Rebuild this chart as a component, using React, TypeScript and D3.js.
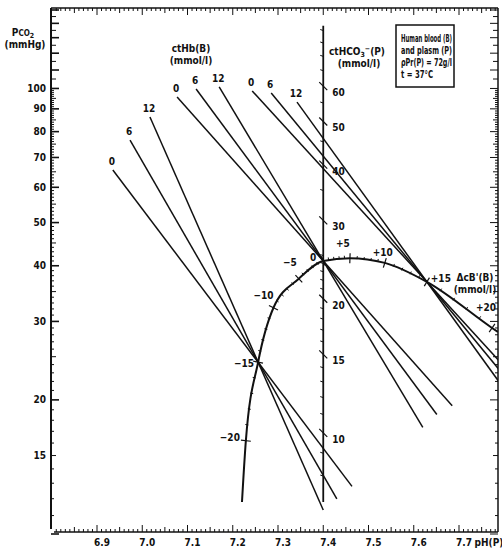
import * as React from "react";
import * as d3 from "d3";

const W = 502;
const H = 548;

// axis ticks
const phTicks = [6.9, 7.0, 7.1, 7.2, 7.3, 7.4, 7.5, 7.6, 7.7];
const pco2Ticks = [15, 20, 30, 40, 50, 60, 70, 80, 90, 100];
const hco3Labels = [10, 15, 20, 30, 40, 50, 60];
const hco3Minor = [8, 9, 11, 12, 13, 14, 16, 17, 18, 19, 21, 22, 23, 24, 25, 35, 45, 55, 65, 70, 75, 80];
const hco3Range = [7, 82];
const hco3Factor = 0.593; // mmol/l per mmHg at pH 7.4

// CO2 equilibration lines, pivot points on the buffer curve
const pivotBE = [-15, 0, 15];
const pivotPh = [7.256, 7.4, 7.629];
const pivotPco2 = [24.3, 41.0, 36.8];
const hbValues = [0, 6, 12];
const lineTopPh = [
  [6.935, 6.973, 7.017],
  [7.077, 7.119, 7.17],
  [7.243, 7.285, 7.342],
];
const lineTopPco2 = [
  [65.6, 76.6, 86.3],
  [95.7, 99.7, 100.8],
  [98.7, 97.7, 93.2],
];
const lineEndPh = [
  [7.4635, 7.43, 7.4],
  [7.685, 7.651, 7.62],
  [7.85, 7.85, 7.85],
];

// buffer base (ΔcB') curve, first and last points are the curve ends
const beValues = [-20, -15, -10, -5, 0, 5, 10, 15, 20];
const curvePh = [7.2204, 7.229, 7.256, 7.29, 7.346, 7.4, 7.459, 7.536, 7.629, 7.773, 7.786];
const curvePco2 = [11.8, 16.2, 24.3, 32.2, 37.4, 41.0, 41.6, 40.6, 36.8, 29.0, 28.4];

const infoLines = ["Human blood (B)", "and plasm (P)", "ρPr(P) = 72g/l", "t = 37°C"];

export default function App() {
  const x = d3.scaleLinear().domain([6.9, 7.7]).range([97, 459]);
  const y = d3.scaleLog().domain([10, 150]).range([534, 10]);
  const L = 51, R = 498, T = 8, B = 532;
  const font = "'DejaVu Sans Condensed', 'DejaVu Sans', sans-serif";

  // ph minor ticks
  const phMinor = d3.range(681, 779).map((v) => v / 100);
  const phLen = (v: number) => {
    const k = Math.round(v * 100);
    return k % 10 === 0 ? 7 : k % 5 === 0 ? 5 : 3;
  };
  const pMinor = d3.range(10, 100, 1).concat(d3.range(100, 151, 5));
  const pLen = (v: number) => (v % 10 === 0 ? 8 : v % 5 === 0 ? 5 : 3);

  const x74 = x(7.4);
  const yH = (h: number) => y(h / hco3Factor);

  const eqLines = pivotBE.flatMap((be, i) =>
    hbValues.map((hb, j) => {
      const lp = Math.log10(pivotPco2[i]);
      const k = (Math.log10(lineTopPco2[i][j]) - lp) / (lineTopPh[i][j] - pivotPh[i]);
      const endP = Math.pow(10, lp + k * (lineEndPh[i][j] - pivotPh[i]));
      return {
        key: be + "-" + hb,
        hb,
        x1: x(lineTopPh[i][j]),
        y1: y(lineTopPco2[i][j]),
        x2: x(lineEndPh[i][j]),
        y2: y(endP),
      };
    })
  );

  const pts: [number, number][] = curvePh.map((p, i) => [x(p), y(curvePco2[i])]);
  const curvePath = d3.line().curve(d3.curveMonotoneX)(pts) || "";

  const normal = (a: [number, number], b: [number, number]) => {
    const dx = b[0] - a[0], dy = b[1] - a[1];
    const n = Math.hypot(dx, dy);
    return [dy / n, -dx / n];
  };

  const majorTicks = beValues.map((be, k) => {
    const i = k + 1;
    const [nx, ny] = normal(pts[i - 1], pts[i + 1]);
    const [px, py] = pts[i];
    return { be, px, py, nx, ny };
  });
  const minorTicks: { px: number; py: number; nx: number; ny: number; key: number }[] = [];
  for (let b = -19; b <= 19; b++) {
    if (b % 5 === 0) continue;
    const kk = (b + 20) / 5;
    const s = Math.floor(kk);
    const f = kk - s;
    const a = pts[1 + s], c = pts[2 + s];
    const [nx, ny] = normal(a, c);
    minorTicks.push({ key: b, px: a[0] + (c[0] - a[0]) * f, py: a[1] + (c[1] - a[1]) * f, nx, ny });
  }
  const beDx = [-16, -14, -10, -9, -10, -7, -2, 14, -6];
  const beDy = [-4, 1, -13, -17, -4, -15, -11, -4, -21];
  const beText = (v: number) => (v > 0 ? "+" + v : v < 0 ? "−" + Math.abs(v) : "0");

  return (
    <svg width={W} height={H} style={{ display: "block", position: "absolute", left: 0, top: 0 }} fontFamily={font} fontWeight="bold">
      <defs>
        <clipPath id="frame">
          <rect x={L} y={T} width={R - L} height={B - T} />
        </clipPath>
      </defs>
      <rect width={W} height={H} fill="#fff" />

      {/* frame */}
      <g stroke="#111" fill="none">
        <line x1={L} y1={T} x2={R} y2={T} strokeWidth={1.5} />
        <line x1={L} y1={T} x2={L} y2={B - 3} strokeWidth={2} />
        <line x1={L + 3} y1={B} x2={R} y2={B} strokeWidth={1.5} />
        <line x1={R} y1={T} x2={R} y2={B} strokeWidth={1.5} />
      </g>

      {/* pH ticks top and bottom */}
      <g stroke="#111" strokeWidth={1}>
        {phMinor.map((v) => (
          <g key={"ph" + v}>
            <line x1={x(v)} x2={x(v)} y1={T} y2={T + phLen(v)} />
            <line x1={x(v)} x2={x(v)} y1={B} y2={B - phLen(v)} />
          </g>
        ))}
      </g>
      {/* PCO2 ticks left and right */}
      <g stroke="#111" strokeWidth={1}>
        {pMinor.map((v) => (
          <g key={"p" + v}>
            <line x1={L} x2={L + pLen(v)} y1={y(v)} y2={y(v)} strokeWidth={pLen(v) > 5 ? 1.6 : 1} />
            <line x1={R} x2={R - pLen(v)} y1={y(v)} y2={y(v)} />
          </g>
        ))}
      </g>
      <g fontSize={10} fill="#111">
        {pco2Ticks.map((v) => (
          <text key={"pl" + v} x={46} y={y(v) + 3.5} textAnchor="end">
            {v}
          </text>
        ))}
        {phTicks.map((v) => (
          <text key={"xl" + v} x={x(v) + 5} y={546} textAnchor="middle">
            {v.toFixed(1)}
          </text>
        ))}
        <text x={489} y={546} textAnchor="middle">pH(P)</text>
        <text x={23} y={36} textAnchor="middle">
          P<tspan fontSize={8}>CO</tspan>
          <tspan fontSize={7} dy={2}>2</tspan>
        </text>
        <text x={25} y={48} textAnchor="middle">(mmHg)</text>
        <text x={191} y={52} textAnchor="middle">ctHb(B)</text>
        <text x={191} y={64} textAnchor="middle">(mmol/l)</text>
        <text x={357} y={55} textAnchor="middle">
          ctHCO<tspan fontSize={7} dy={2}>3</tspan>
          <tspan fontSize={7} dy={-6}>−</tspan>
          <tspan dy={4}>(P)</tspan>
        </text>
        <text x={359} y={67} textAnchor="middle">(mmol/l)</text>
        <text x={475} y={281} textAnchor="middle">ΔcB'(B)</text>
        <text x={475} y={293} textAnchor="middle">(mmol/l)</text>
      </g>

      {/* info box */}
      <rect x={396} y={25} width={58} height={62} fill="#fff" stroke="#111" strokeWidth={1.5} />
      <g fontSize={11} fill="#111">
        {infoLines.map((t, i) => (
          <text key={t} x={401} y={42 + i * 12} textLength={i === 3 ? 32 : 51} lengthAdjust="spacingAndGlyphs">
            {t}
          </text>
        ))}
      </g>

      <g clipPath="url(#frame)">
        {/* HCO3 scale at pH 7.4 */}
        <line x1={x74} x2={x74} y1={yH(hco3Range[1])} y2={yH(hco3Range[0])} stroke="#111" strokeWidth={1.8} />
        {hco3Labels.map((h) => (
          <g key={"h" + h}>
            <line x1={x74 - 4} y1={yH(h) - 4} x2={x74 + 4} y2={yH(h) + 4} stroke="#111" strokeWidth={1.2} />
            <text x={x74 + 9} y={yH(h) + 10} fontSize={10} fill="#111">
              {h}
            </text>
          </g>
        ))}
        {hco3Minor.map((h) => (
          <line key={"hm" + h} x1={x74 - 3} x2={x74} y1={yH(h) - 1} y2={yH(h)} stroke="#111" strokeWidth={1} />
        ))}

        {/* equilibration lines */}
        {eqLines.map((d) => (
          <g key={d.key}>
            <line x1={d.x1} y1={d.y1} x2={d.x2} y2={d.y2} stroke="#111" strokeWidth={1.5} />
            <text x={d.x1 - 1} y={d.y1 - 5} fontSize={10} textAnchor="middle" fill="#111">
              {d.hb}
            </text>
          </g>
        ))}

        {/* buffer curve */}
        <path d={curvePath} fill="none" stroke="#111" strokeWidth={2} />
        {majorTicks.map((t) => (
          <line
            key={"bt" + t.be}
            x1={t.px - t.nx * 5}
            y1={t.py - t.ny * 5}
            x2={t.px + t.nx * 5}
            y2={t.py + t.ny * 5}
            stroke="#111"
            strokeWidth={1.2}
          />
        ))}
        {minorTicks.map((t) => (
          <line key={"bm" + t.key} x1={t.px} y1={t.py} x2={t.px + t.nx * 3} y2={t.py + t.ny * 3} stroke="#111" strokeWidth={1} />
        ))}
        {majorTicks.map((t, i) => (
          <text key={"bl" + t.be} x={t.px + beDx[i]} y={t.py + beDy[i] + 4} fontSize={10} textAnchor="middle" fill="#111">
            {beText(t.be)}
          </text>
        ))}
      </g>
    </svg>
  );
}
